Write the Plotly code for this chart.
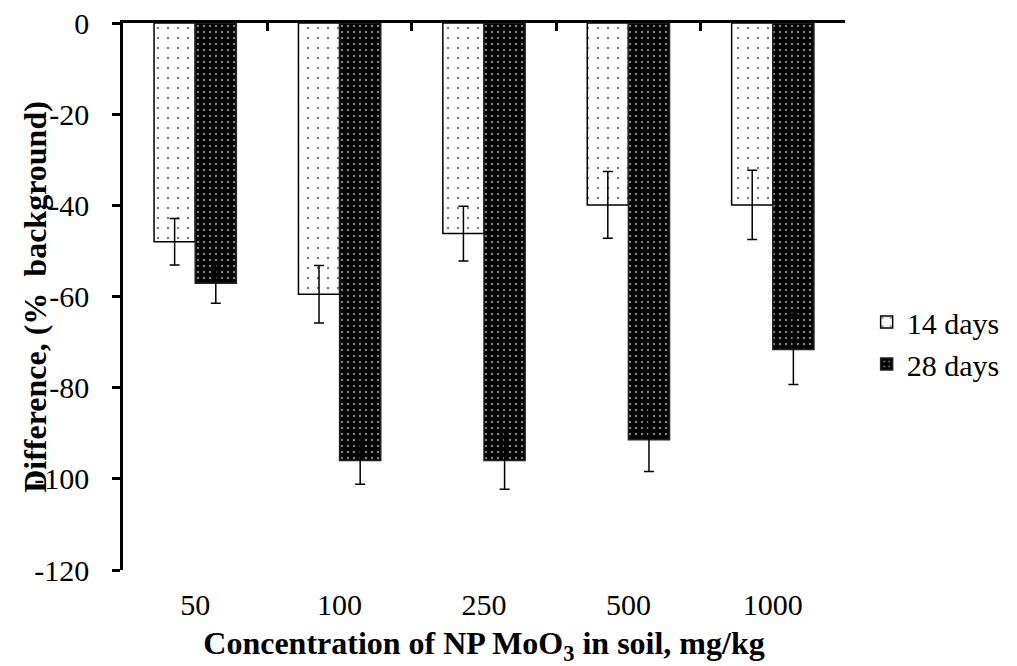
import plotly.graph_objects as go

categories = ["50", "100", "250", "500", "1000"]
days14 = [-48.0, -59.5, -46.2, -39.9, -39.9]
days14_err = [5.1, 6.3, 6.0, 7.3, 7.6]
days28 = [-57.1, -96.0, -96.0, -91.4, -71.6]
days28_err = [4.4, 5.2, 6.3, 7.0, 7.7]
series_names = ["14 days", "28 days"]
y_ticks = [0, -20, -40, -60, -80, -100, -120]
y_ticktext = ["0", "-20", "-40", "-60", "-80", "-100", "-120"]
y_title = "<b>Difference, (%  background)</b>"
x_title = "<b>Concentration of NP MoO<sub>3</sub> in soil, mg/kg</b>"

FONT = "Liberation Serif, Times New Roman, serif"

fig = go.Figure()
fig.add_trace(go.Bar(
    x=categories, y=days14, name=series_names[0],
    marker=dict(color="white", line=dict(color="black", width=1.5),
                pattern=dict(shape=".", fgcolor="black", bgcolor="white",
                             size=10, solidity=0.05, fillmode="overlay")),
    error_y=dict(type="data", array=days14_err, color="black", thickness=1.5, width=5),
))
fig.add_trace(go.Bar(
    x=categories, y=days28, name=series_names[1],
    marker=dict(color="black", line=dict(color="#222222", width=1.5),
                pattern=dict(shape=".", fgcolor="white", bgcolor="black",
                             size=6, solidity=0.14, fillmode="overlay")),
    error_y=dict(type="data", array=days28_err, color="black", thickness=1.5, width=5),
))
# helper trace so the top category axis gets its boundary ticks
fig.add_trace(go.Scatter(x=categories, y=days14, xaxis="x2", mode="none",
                         showlegend=False, hoverinfo="skip"))

fig.update_layout(
    width=1017, height=666,
    margin=dict(l=123, r=169, t=23, b=96),
    paper_bgcolor="white", plot_bgcolor="white",
    font=dict(family=FONT, size=30, color="black"),
    barmode="group", bargap=0.43, bargroupgap=0,
    showlegend=True,
    legend=dict(x=1.03, y=0.415, xanchor="left", yanchor="middle",
                font=dict(family=FONT, size=30), bgcolor="rgba(0,0,0,0)",
                itemwidth=30, tracegroupgap=0),
    xaxis=dict(type="category", categoryarray=categories, showline=False,
               ticks="", showgrid=False, zeroline=False, automargin=False,
               title=dict(text=x_title, font=dict(family=FONT, size=32), standoff=13),
               tickfont=dict(family=FONT, size=30), ticklabelstandoff=14),
    xaxis2=dict(type="category", categoryarray=categories, overlaying="x", matches="x",
                side="top", anchor="y", showline=True, linecolor="black", linewidth=3,
                ticks="inside", ticklen=8, tickwidth=3, tickcolor="black",
                tickson="boundaries", showticklabels=False, showgrid=False,
                automargin=False),
    yaxis=dict(range=[-120, 0], tickvals=y_ticks, ticktext=y_ticktext, showline=True,
               linecolor="black", linewidth=2.5, ticks="outside", ticklen=8, tickwidth=2.5,
               tickcolor="black", showgrid=False, zeroline=False, automargin=False,
               tickfont=dict(family=FONT, size=30), ticklabelstandoff=17),
    annotations=[dict(text=y_title, textangle=-90, xref="paper", yref="paper",
                      x=-0.1228, y=0.5, xanchor="center", yanchor="middle",
                      showarrow=False, font=dict(family=FONT, size=32))],
)

fig.write_html("out.html")
